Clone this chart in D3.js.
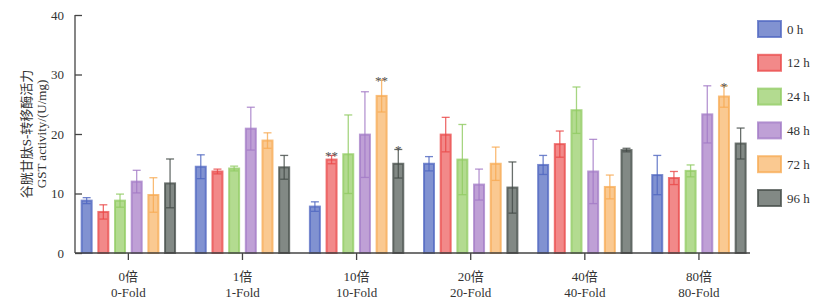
<!DOCTYPE html>
<html><head><meta charset="utf-8">
<script src="https://cdn.jsdelivr.net/npm/d3@7"></script>
<style>
html,body{margin:0;padding:0;background:#fff;}
svg text{font-family:"Liberation Serif","Noto Sans CJK SC",serif;fill:#333;}
</style></head>
<body><svg id="chart" width="832" height="305"></svg>
<script>
// ---- data ----
const groupsCN = ["0倍","1倍","10倍","20倍","40倍","80倍"];
const groupsEN = ["0-Fold","1-Fold","10-Fold","20-Fold","40-Fold","80-Fold"];
const seriesNames = ["0 h","12 h","24 h","48 h","72 h","96 h"];
// values[series][group]
const values = [
  [8.8, 14.5, 7.8, 15.0, 14.8, 13.1],
  [6.9, 13.7, 15.7, 19.9, 18.3, 12.6],
  [8.8, 14.2, 16.6, 15.7, 24.0, 13.8],
  [12.0, 20.9, 19.9, 11.5, 13.7, 23.3],
  [9.75, 18.9, 26.4, 15.0, 11.1, 26.3],
  [11.7, 14.4, 15.0, 11.0, 17.3, 18.4]
];
const errors = [
  [0.5, 2.0, 0.8, 1.2, 1.6, 3.3],
  [1.2, 0.4, 0.7, 2.9, 2.2, 1.1],
  [1.1, 0.4, 6.6, 5.9, 3.9, 1.0],
  [1.9, 3.6, 7.2, 2.6, 5.4, 4.8],
  [2.9, 1.3, 2.7, 2.8, 2.0, 1.8],
  [4.1, 2.0, 2.4, 4.3, 0.3, 2.6]
];
const yTicks = [0, 10, 20, 30, 40];
// significance marks: [series index, group index, label]
const sigSeries = [1, 4, 5, 4];
const sigGroups = [2, 2, 2, 5];
const sigLabels = ["**", "**", "*", "*"];

const fills   = ["#6b7fc9","#f07474","#a6d57c","#b48fcf","#f9c07e","#6c7470"];
const strokes = ["#4f66c0","#ea4848","#90cb62","#a279c5","#f7aa52","#434b47"];

// ---- layout ----
const svg = d3.select("#chart");
const y = d3.scaleLinear().domain([0, 40]).range([253, 15]);
const x0 = d3.scaleBand().domain(d3.range(groupsCN.length)).range([71.3, 756]).paddingInner(0).paddingOuter(0);
const x1 = d3.scaleBand().domain(d3.range(seriesNames.length)).range([-46.7, 46.7]).paddingInner(0.4).paddingOuter(0);

// bars
const g = svg.append("g");
values.forEach((sv, si) => {
  sv.forEach((v, gi) => {
    const cx = x0(gi) + x0.bandwidth()/2;
    const bx = cx + x1(si);
    const bw = x1.bandwidth();
    g.append("rect")
      .attr("x", bx).attr("y", y(v))
      .attr("width", bw).attr("height", y(0) - y(v))
      .attr("fill", fills[si]).attr("fill-opacity", 0.85)
      .attr("stroke", strokes[si]).attr("stroke-width", 2).attr("stroke-opacity", 0.75);
    const e = errors[si][gi];
    const mx = bx + bw/2;
    const eg = g.append("g").attr("stroke", strokes[si]).attr("stroke-width", 1.3).attr("stroke-opacity", 0.8);
    eg.append("line").attr("x1", mx).attr("x2", mx).attr("y1", y(v + e)).attr("y2", y(v - e));
    eg.append("line").attr("x1", mx - 4).attr("x2", mx + 4).attr("y1", y(v + e)).attr("y2", y(v + e));
    eg.append("line").attr("x1", mx - 4).attr("x2", mx + 4).attr("y1", y(v - e)).attr("y2", y(v - e));
  });
});

// significance
sigLabels.forEach((lab, i) => {
  const si = sigSeries[i], gi = sigGroups[i];
  const cx = x0(gi) + x0.bandwidth()/2 + x1(si) + x1.bandwidth()/2;
  const top = y(values[si][gi] + errors[si][gi]);
  svg.append("text").attr("x", cx).attr("y", top + 5)
    .attr("text-anchor", "middle").style("font-size", "13px").style("fill", "#555").text(lab);
});

// y axis
const yAxis = d3.axisLeft(y).tickValues(yTicks).tickSize(-7).tickPadding(11);
const ya = svg.append("g").attr("transform", "translate(75,0)").call(yAxis);
ya.select(".domain").attr("stroke", "#444").attr("stroke-width", 1.3).attr("d", "M0,15V253");
ya.selectAll(".tick line").attr("stroke", "#444").attr("stroke-width", 1.3);
ya.selectAll(".tick text").style("font-size", "13px").style("fill", "#333");

// x axis
const xa = svg.append("g").attr("transform", "translate(0,253)")
  .call(d3.axisBottom(x0).tickSize(7).tickFormat(""));
xa.select(".domain").attr("stroke", "#444").attr("stroke-width", 1.3).attr("d", "M75,0H750");
xa.selectAll(".tick line").attr("stroke", "#444").attr("stroke-width", 1.3);
groupsCN.forEach((cn, gi) => {
  const cx = x0(gi) + x0.bandwidth()/2;
  svg.append("text").attr("x", cx).attr("y", 281).attr("text-anchor", "middle").style("font-size", "13px").text(cn);
  svg.append("text").attr("x", cx).attr("y", 297).attr("text-anchor", "middle").style("font-size", "13px").text(groupsEN[gi]);
});

// y title
const yt = svg.append("g").attr("transform", "translate(0,134) rotate(-90)");
yt.append("text").attr("x", 0).attr("y", 31).attr("text-anchor", "middle").style("font-size", "13px").text("谷胱甘肽S-转移酶活力");
yt.append("text").attr("x", 0).attr("y", 46).attr("text-anchor", "middle").style("font-size", "13px").text("GST activity/(U/mg)");

// legend
seriesNames.forEach((n, si) => {
  const cy = 29 + si * 33.8;
  svg.append("rect").attr("x", 758).attr("y", cy - 8).attr("width", 23).attr("height", 16)
    .attr("fill", fills[si]).attr("fill-opacity", 0.85)
    .attr("stroke", strokes[si]).attr("stroke-width", 2).attr("stroke-opacity", 0.75);
  svg.append("text").attr("x", 787).attr("y", cy + 4.5).style("font-size", "13px").text(n);
});
</script>
</body></html>
